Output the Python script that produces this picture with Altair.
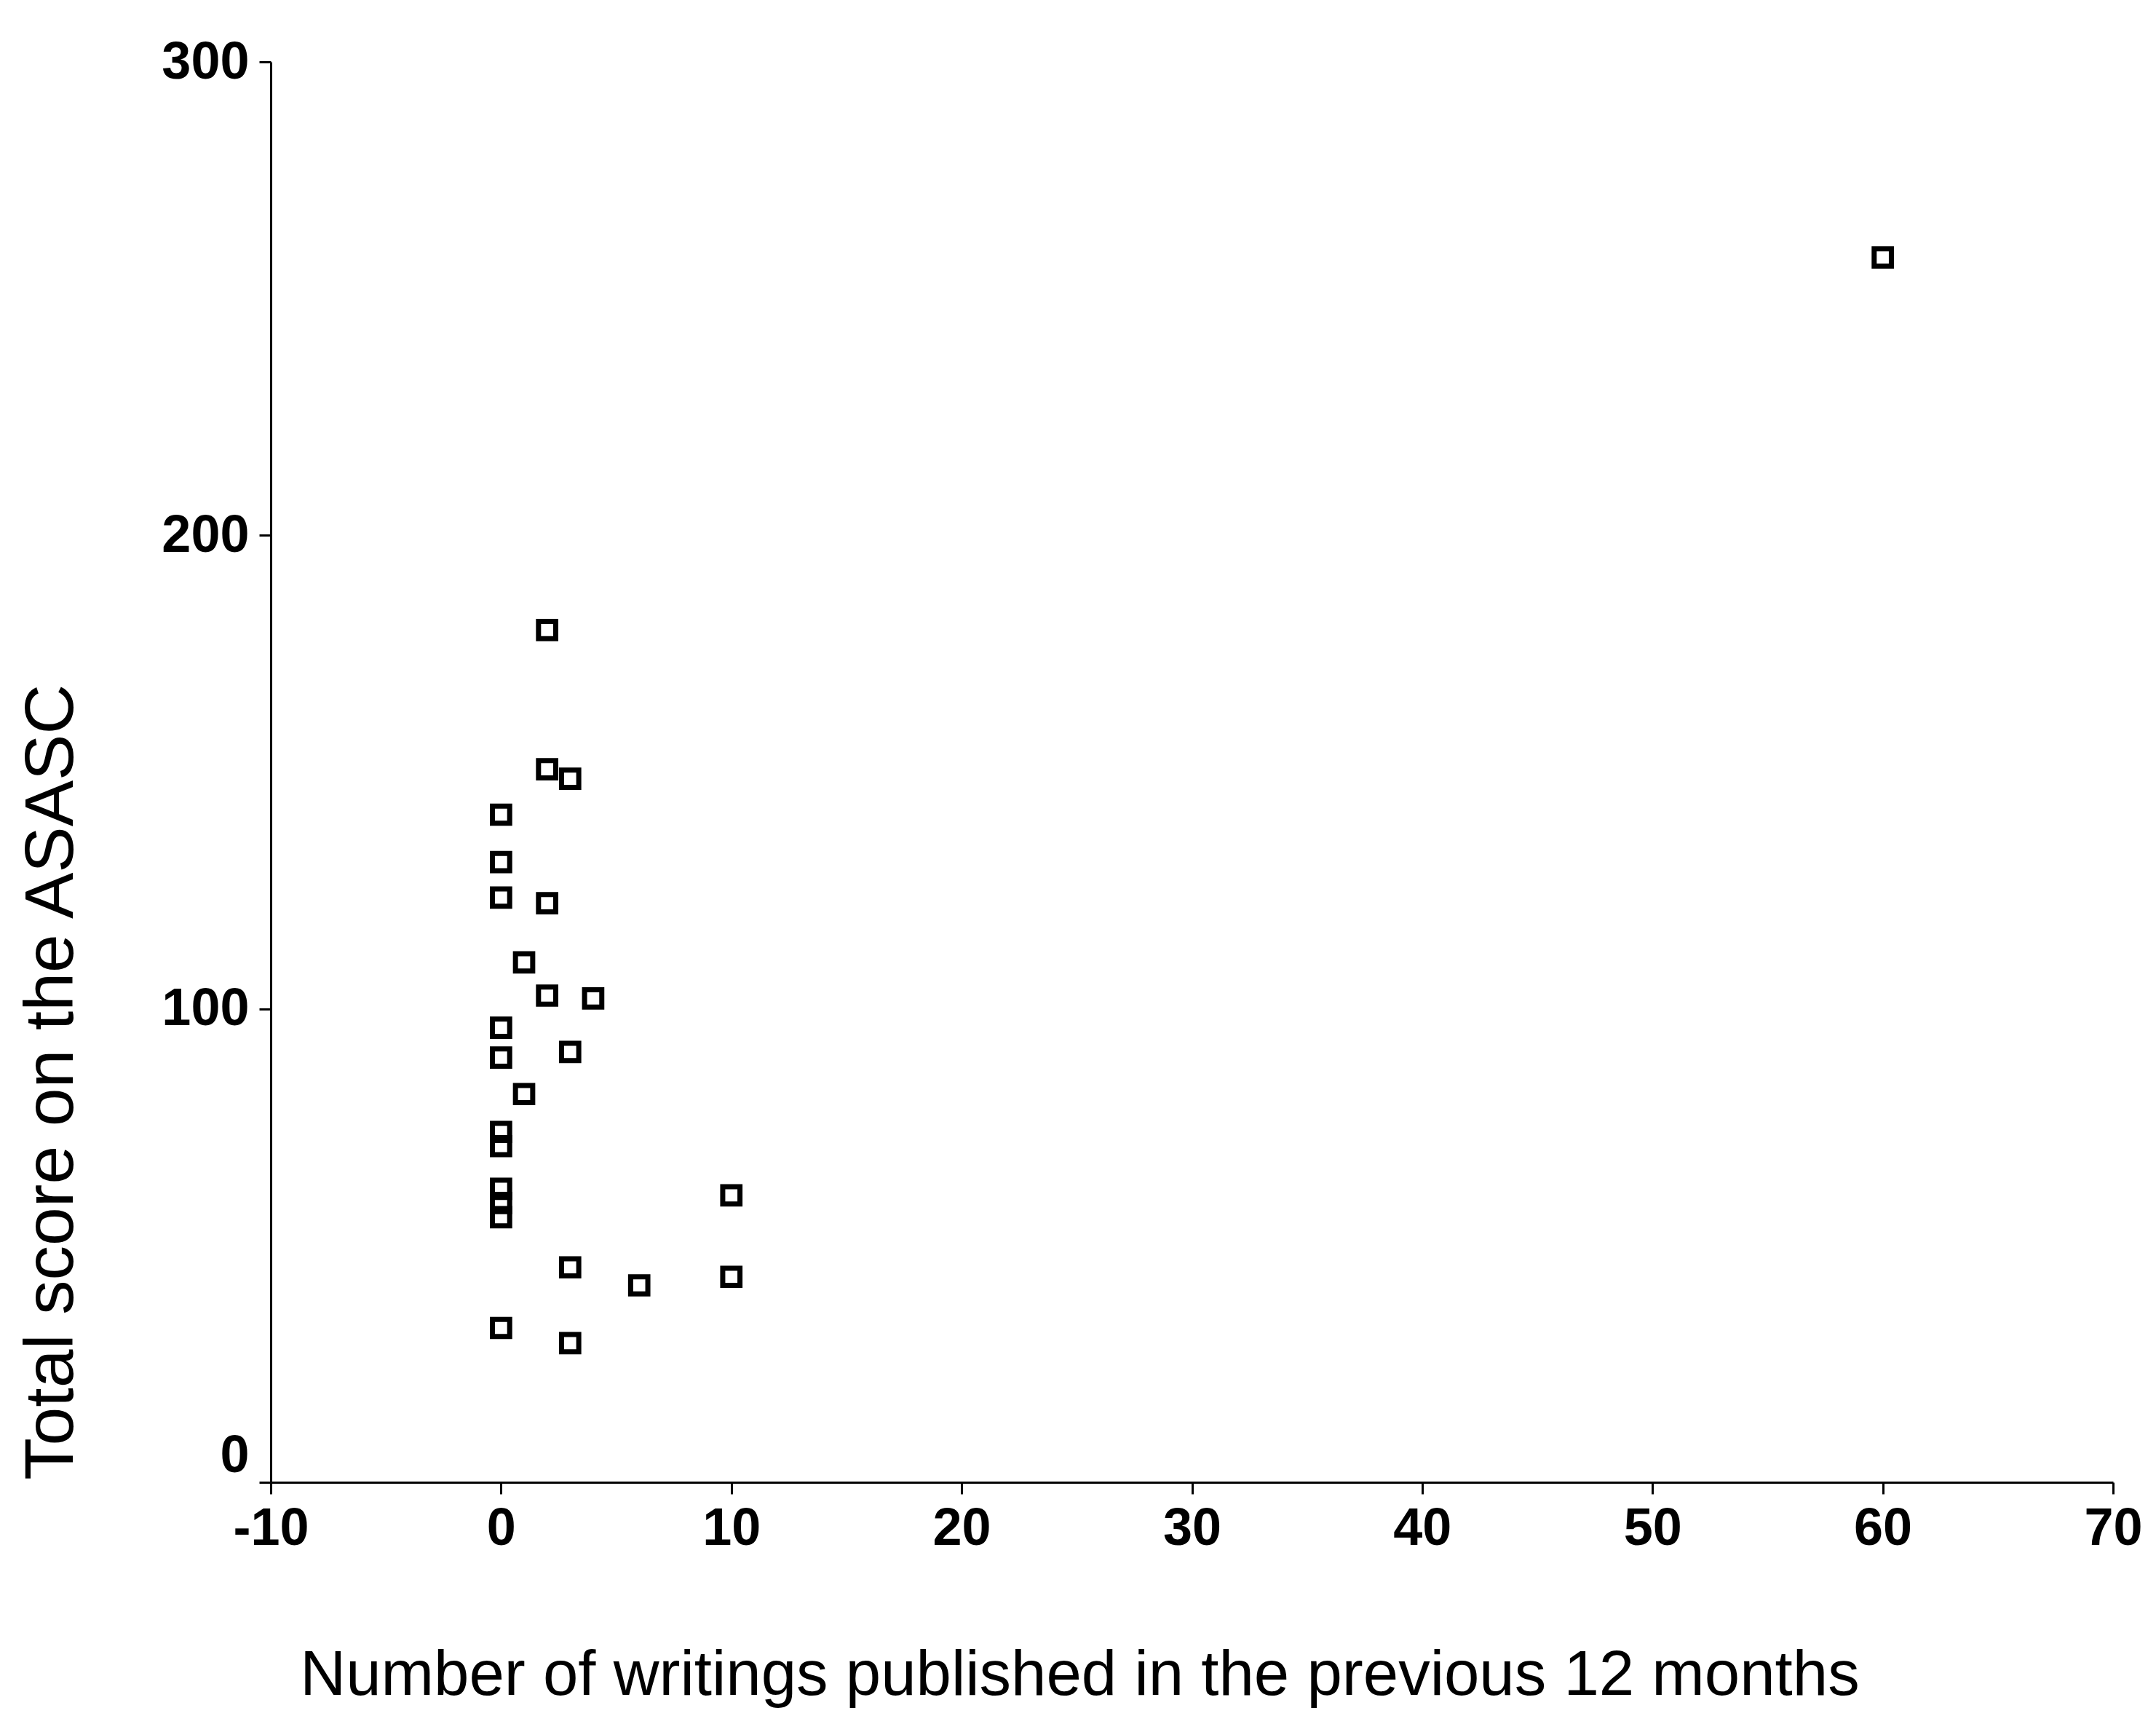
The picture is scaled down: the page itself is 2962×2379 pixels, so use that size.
import altair as alt
import pandas as pd

writings = [2, 2, 3, 0, 0, 0, 2, 1, 2, 4, 0, 0, 3, 1, 0, 0, 0, 0, 0, 3, 6, 10, 10, 0, 3, 60]
scores = [180, 150.6, 148.6, 141, 131, 123.5, 122.3, 109.8, 102.8, 102.2, 96, 89.7, 90.9, 82,
          74, 71, 62, 59, 56, 45.4, 41.6, 60.6, 43.4, 32.6, 29.4, 258.7]

df = pd.DataFrame({"x": writings, "y": scores})

FONT = "Liberation Sans"

chart = alt.Chart(df).mark_point(
    shape="square", filled=False, color="black", strokeWidth=7, size=560, opacity=1
).encode(
    x=alt.X("x:Q", scale=alt.Scale(domain=[-10, 70], nice=False, zero=False),
            axis=alt.Axis(values=[-10, 0, 10, 20, 30, 40, 50, 60, 70], grid=False,
                          title="Number of writings published in the previous 12 months",
                          titleFontSize=87, titleFontWeight="normal", titleFont=FONT,
                          titleX=1111, titleY=291, titleAlign="center", titleBaseline="alphabetic",
                          titleAnchor="start",
                          labelExpr="replace(datum.label, '\u2212', '-')",
                          labelFontSize=72, labelFontWeight="bold", labelFont=FONT,
                          labelPadding=12, tickSize=16, tickWidth=3, domainWidth=3,
                          domainColor="black", tickColor="black", labelColor="black",
                          labelFlush=False)),
    y=alt.Y("y:Q", scale=alt.Scale(domain=[0, 300], nice=False),
            axis=alt.Axis(values=[0, 100, 200, 300], grid=False,
                          title="Total score on the ASASC",
                          titleFontSize=95, titleFontWeight="normal", titleFont=FONT,
                          titleX=-273, titleY=1401, titleAngle=-90, titleAlign="center",
                          titleBaseline="alphabetic", titleAnchor="start",
                          labelFontSize=72, labelFontWeight="bold", labelFont=FONT,
                          labelBaseline={"condition": {"test": "datum.value == 0", "value": "bottom"},
                                         "value": "middle"},
                          labelPadding=14, tickSize=16, tickWidth=3, domainWidth=3,
                          domainColor="black", tickColor="black", labelColor="black",
                          labelFlush=False)),
).properties(
    width=2531, height=1951,
    autosize=alt.AutoSizeParams(type="none"),
    padding={"left": 372, "top": 85, "right": 59, "bottom": 343},
).configure(background="white", view=alt.ViewConfig(strokeWidth=0, stroke="transparent"))

chart.save("out.html", embed_options={"renderer": "svg", "actions": False})
